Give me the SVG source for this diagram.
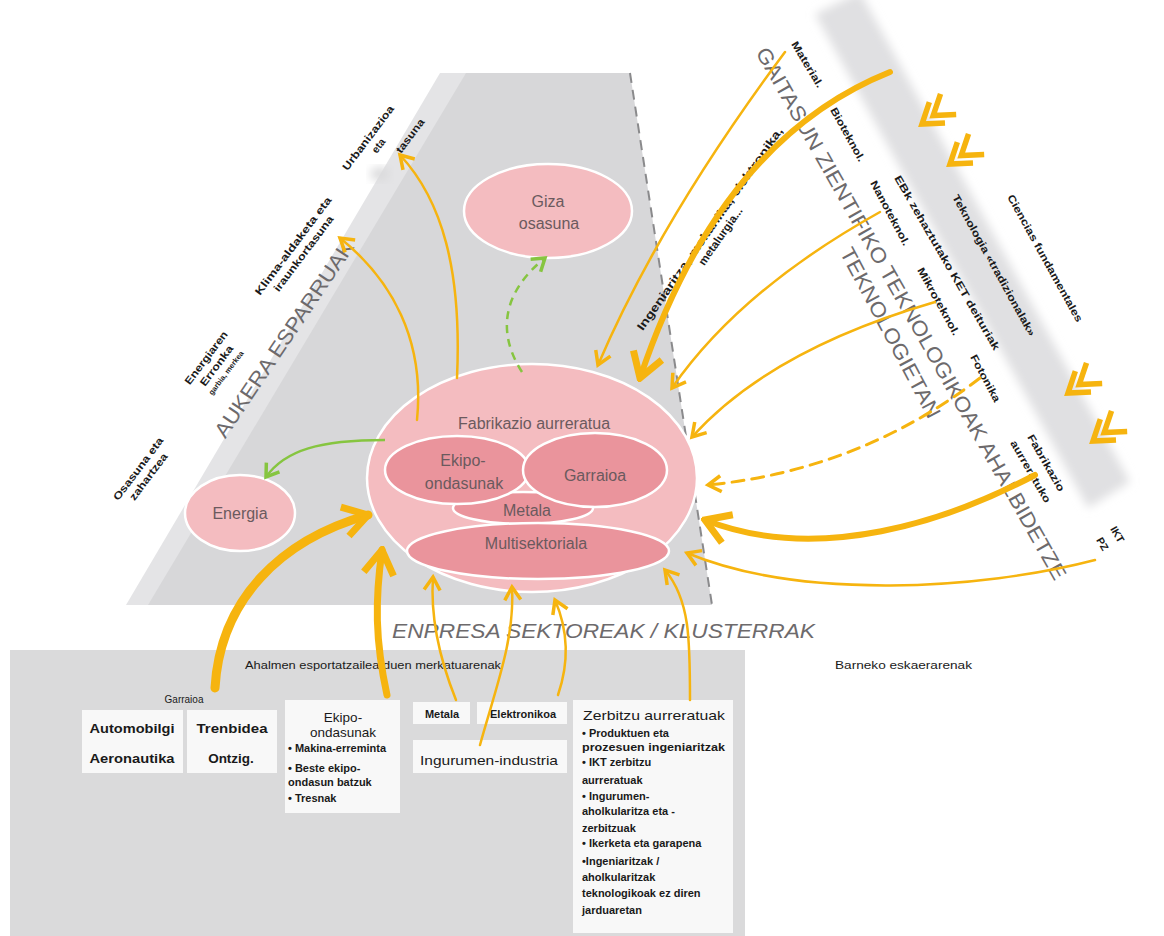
<svg xmlns="http://www.w3.org/2000/svg" width="1164" height="936" viewBox="0 0 1164 936">
<defs>
<style>
text{font-family:"Liberation Sans",Arial,sans-serif;}
.lbl{font-size:10.5px;font-weight:bold;fill:#1a1a1a;}
.big{font-size:21px;fill:#6d6a6c;}
.ell{font-size:16px;fill:#6b5a5e;}
.box{fill:#f8f8f8;}
.sm{font-size:11px;font-weight:bold;fill:#1a1a1a;}
.md{font-size:13.5px;fill:#1a1a1a;}
.y{fill:none;stroke:#f6b40f;stroke-linecap:round;}
.g{fill:none;stroke:#86c540;stroke-width:2.5;}
.outer{fill:#f4bcc0;stroke:#fff;stroke-width:2.5;}
.inner{fill:#ea949c;stroke:#fff;stroke-width:2.5;}
.chev{fill:none;stroke:#f6b40f;stroke-width:5.5;}
</style>
<marker id="ah" viewBox="-18 -12 22 24" refX="0" refY="0" markerWidth="22" markerHeight="24" orient="auto" markerUnits="userSpaceOnUse"><path d="M-13,-8 L0,0 L-13,8" fill="none" stroke="#f6b40f" stroke-width="3.5"/></marker>
<marker id="ahB" viewBox="-30 -20 34 40" refX="0" refY="0" markerWidth="34" markerHeight="40" orient="auto" markerUnits="userSpaceOnUse"><path d="M-24,-15 L0,0 L-24,15" fill="none" stroke="#f6b40f" stroke-width="7"/></marker>
<marker id="ag" viewBox="-18 -12 22 24" refX="0" refY="0" markerWidth="22" markerHeight="24" orient="auto" markerUnits="userSpaceOnUse"><path d="M-12,-8 L0,0 L-12,8" fill="none" stroke="#86c540" stroke-width="3.5"/></marker>
<filter id="blur" x="-20%" y="-20%" width="140%" height="140%"><feGaussianBlur stdDeviation="5"/></filter>
<g id="chevron"><path class="chev" d="M-19,-13 L0,0 L-19,13"/><path class="chev" d="M-33,-13 L-14,0 L-33,13"/></g>
</defs>
<rect width="1164" height="936" fill="#fff"/>

<g id="background">
  <polygon points="440,73 468,73 150,605 126,605" fill="#e4e4e6"/>
  <polygon points="466,73 630,73 712,605 148,605" fill="#d7d7d9"/>
  <polygon points="815,14 860,-8 1130,482 1088,508" fill="#e0e0e2" filter="url(#blur)"/>
  <line x1="630" y1="73" x2="712" y2="605" stroke="#8a8a8c" stroke-width="2" stroke-dasharray="10 7"/>
  <rect x="10" y="650" width="735" height="286" fill="#dadadb"/>
  <ellipse cx="380" cy="174" rx="10" ry="7" fill="#dadadc" filter="url(#blur)"/>
</g>

<g id="section-labels">
  <text class="big" transform="translate(290,343) rotate(-56)" text-anchor="middle" textLength="232" lengthAdjust="spacingAndGlyphs">AUKERA ESPARRUAK</text>
  <text class="big" transform="translate(905,317) rotate(60.5)" text-anchor="middle" textLength="608" lengthAdjust="spacingAndGlyphs">GAITASUN ZIENTIFIKO TEKNOLOGIKOAK AHALBIDETZE</text>
  <text class="big" transform="translate(884,336) rotate(62)" text-anchor="middle" textLength="190" lengthAdjust="spacingAndGlyphs">TEKNOLOGIETAN</text>
  <text class="big" x="392" y="638" font-style="italic" textLength="423" lengthAdjust="spacingAndGlyphs">ENPRESA SEKTOREAK / KLUSTERRAK</text>
</g>

<g id="aukera-labels">
  <text class="lbl" transform="translate(141,471) rotate(-53)" text-anchor="middle"><tspan x="0" y="0" textLength="76" lengthAdjust="spacingAndGlyphs">Osasuna eta</tspan><tspan x="0" y="13" textLength="56" lengthAdjust="spacingAndGlyphs">zahartzea</tspan></text>
  <text class="lbl" transform="translate(209,360) rotate(-53)" text-anchor="middle"><tspan x="0" y="0" textLength="64" lengthAdjust="spacingAndGlyphs">Energiaren</tspan><tspan x="0" y="13" textLength="48" lengthAdjust="spacingAndGlyphs">Erronka</tspan><tspan x="0" y="24" font-size="7.5">garbia, merkea</tspan></text>
  <text class="lbl" transform="translate(296,248) rotate(-53)" text-anchor="middle"><tspan x="0" y="0" textLength="120" lengthAdjust="spacingAndGlyphs">Klima-aldaketa eta</tspan><tspan x="0" y="13" textLength="92" lengthAdjust="spacingAndGlyphs">iraunkortasuna</tspan></text>
  <text class="lbl" transform="translate(371,140) rotate(-53)" text-anchor="middle"><tspan x="0" y="0" textLength="78" lengthAdjust="spacingAndGlyphs">Urbanizazioa</tspan><tspan x="0" y="13">eta</tspan></text>
  <text class="lbl" transform="translate(413,138) rotate(-53)" text-anchor="middle" textLength="40" lengthAdjust="spacingAndGlyphs">tasuna</text>
</g>

<g id="tech-labels">
  <text class="lbl" transform="translate(791,44) rotate(59)" textLength="52" lengthAdjust="spacingAndGlyphs">Material.</text>
  <text class="lbl" transform="translate(830,110) rotate(61)" textLength="60" lengthAdjust="spacingAndGlyphs">Bioteknol.</text>
  <text class="lbl" transform="translate(894,178) rotate(60)" textLength="200" lengthAdjust="spacingAndGlyphs">EBk zehaztutako KET deituriak</text>
  <text class="lbl" transform="translate(870,183) rotate(62)" textLength="72" lengthAdjust="spacingAndGlyphs">Nanoteknol.</text>
  <text class="lbl" transform="translate(917,270) rotate(61)" textLength="76" lengthAdjust="spacingAndGlyphs">Mikroteknol.</text>
  <text class="lbl" transform="translate(970,357) rotate(62)" textLength="52" lengthAdjust="spacingAndGlyphs">Fotonika</text>
  <text class="lbl" transform="translate(952,197) rotate(61)" textLength="160" lengthAdjust="spacingAndGlyphs">Teknologia «tradizionalak»</text>
  <text class="lbl" transform="translate(1007,197) rotate(61)" textLength="144" lengthAdjust="spacingAndGlyphs">Ciencias fundamentales</text>
  <text class="lbl" transform="translate(1027,437) rotate(60)" textLength="64" lengthAdjust="spacingAndGlyphs">Fabrikazio</text>
  <text class="lbl" transform="translate(1010,443) rotate(60)" textLength="70" lengthAdjust="spacingAndGlyphs">aurreratuko</text>
  <text class="lbl" transform="translate(1110,529) rotate(60)">IKT</text>
  <text class="lbl" transform="translate(1096,540) rotate(60)">PZ</text>
  <text transform="translate(713,231) rotate(-55)" text-anchor="middle" font-size="11.5" font-weight="bold" fill="#1a1a1a"><tspan x="0" y="0" textLength="245" lengthAdjust="spacingAndGlyphs">Ingeniaritza, mekanika, elektronika,</tspan><tspan x="0" y="13">metalurgia...</tspan></text>
</g>

<g id="chevrons">
  <use href="#chevron" transform="translate(922,124) rotate(143)"/>
  <use href="#chevron" transform="translate(950,164) rotate(143)"/>
  <use href="#chevron" transform="translate(1068,393) rotate(143)"/>
  <use href="#chevron" transform="translate(1093,441) rotate(143)"/>
</g>

<g id="node-giza">
  <ellipse class="outer" cx="548" cy="211" rx="84" ry="47" fill="#f2b8bc"/>
  <text class="ell" x="548" y="207" text-anchor="middle" fill="#666">Giza</text>
  <text class="ell" x="549" y="229" text-anchor="middle" fill="#666">osasuna</text>
</g>

<g id="node-energia">
  <ellipse class="outer" cx="240" cy="513" rx="55" ry="38"/>
  <text class="ell" x="240" y="519" text-anchor="middle">Energia</text>
</g>

<g id="node-fabrikazio">
  <ellipse class="outer" cx="532" cy="478" rx="165" ry="114"/>
  <text class="ell" x="534" y="429" text-anchor="middle">Fabrikazio aurreratua</text>
</g>
<g id="node-metala">
  <ellipse class="inner" cx="523" cy="508" rx="70" ry="16"/>
  <text class="ell" x="527" y="516" text-anchor="middle" font-size="15">Metala</text>
</g>
<g id="node-ekipo">
  <ellipse class="inner" cx="457" cy="470" rx="72" ry="34"/>
  <text class="ell" x="463" y="466" text-anchor="middle">Ekipo-</text>
  <text class="ell" x="464" y="489" text-anchor="middle">ondasunak</text>
</g>
<g id="node-garraioa">
  <ellipse class="inner" cx="595" cy="470" rx="72" ry="37"/>
  <text class="ell" x="595" y="481" text-anchor="middle" font-size="17">Garraioa</text>
</g>
<g id="node-multisektoriala">
  <ellipse class="inner" cx="538" cy="551" rx="131" ry="28"/>
  <text class="ell" x="536" y="549" text-anchor="middle" font-size="15">Multisektoriala</text>
</g>

<g id="sectors">
  <text x="245" y="669" font-size="11" fill="#1a1a1a" textLength="256" lengthAdjust="spacingAndGlyphs">Ahalmen esportatzailea duen merkatuarenak</text>
  <text x="835" y="669" font-size="11.5" fill="#1a1a1a" textLength="137" lengthAdjust="spacingAndGlyphs">Barneko eskaerarenak</text>
  <text x="184" y="703" font-size="10" fill="#1a1a1a" text-anchor="middle">Garraioa</text>
  <g id="box-garraio1"><rect class="box" x="82" y="710" width="101" height="63"/>
    <text class="md" x="132" y="733" text-anchor="middle" font-weight="bold" textLength="85" lengthAdjust="spacingAndGlyphs">Automobilgi</text>
    <text class="md" x="132" y="763" text-anchor="middle" font-weight="bold" textLength="85" lengthAdjust="spacingAndGlyphs">Aeronautika</text></g>
  <g id="box-garraio2"><rect class="box" x="187" y="710" width="90" height="63"/>
    <text class="md" x="232" y="733" text-anchor="middle" font-weight="bold" textLength="71" lengthAdjust="spacingAndGlyphs">Trenbidea</text>
    <text class="md" x="231" y="763" text-anchor="middle" font-weight="bold">Ontzig.</text></g>
  <g id="box-ekipo"><rect class="box" x="285" y="700" width="115" height="113"/>
    <text class="md" x="343" y="722" text-anchor="middle">Ekipo-</text>
    <text class="md" x="343" y="737" text-anchor="middle">ondasunak</text>
    <text class="sm" x="288" y="752" font-size="10.5">• Makina-erreminta</text>
    <text class="sm" x="288" y="772" font-size="10.5">• Beste ekipo-</text>
    <text class="sm" x="288" y="786" font-size="10.5">ondasun batzuk</text>
    <text class="sm" x="288" y="802" font-size="10.5">• Tresnak</text></g>
  <g id="box-metala"><rect class="box" x="413" y="702" width="57" height="22"/>
    <text class="sm" x="442" y="718" text-anchor="middle" font-size="10.5">Metala</text></g>
  <g id="box-elektronikoa"><rect class="box" x="477" y="702" width="90" height="22"/>
    <text class="sm" x="523" y="718" text-anchor="middle" font-size="10.5">Elektronikoa</text></g>
  <g id="box-ingurumen"><rect class="box" x="413" y="740" width="154" height="33"/>
    <text class="md" x="489" y="765" text-anchor="middle" textLength="138" lengthAdjust="spacingAndGlyphs">Ingurumen-industria</text></g>
  <g id="box-zerbitzu"><rect class="box" x="573" y="700" width="160" height="233"/>
    <text class="md" x="583" y="720" textLength="142" lengthAdjust="spacingAndGlyphs">Zerbitzu aurreratuak</text>
    <text class="sm" x="582" y="737">• Produktuen eta</text>
    <text class="sm" x="582" y="751" textLength="143" lengthAdjust="spacingAndGlyphs">prozesuen ingeniaritzak</text>
    <text class="sm" x="582" y="766">• IKT zerbitzu</text>
    <text class="sm" x="582" y="784">aurreratuak</text>
    <text class="sm" x="582" y="800">• Ingurumen-</text>
    <text class="sm" x="582" y="815">aholkularitza eta -</text>
    <text class="sm" x="582" y="832">zerbitzuak</text>
    <text class="sm" x="582" y="847">• Ikerketa eta garapena</text>
    <text class="sm" x="582" y="865">•Ingeniaritzak /</text>
    <text class="sm" x="582" y="881">aholkularitzak</text>
    <text class="sm" x="582" y="897">teknologikoak ez diren</text>
    <text class="sm" x="582" y="914">jarduaretan</text></g>
</g>

<g id="connectors">
  <path class="y" stroke-width="2.5" d="M785,52 Q660,220 598,365" marker-end="url(#ah)"/>
  <path class="y" stroke-width="6" d="M890,72 Q720,140 640,378" marker-end="url(#ahB)"/>
  <path class="y" stroke-width="2.5" d="M880,212 Q740,290 672,388" marker-end="url(#ah)"/>
  <path class="y" stroke-width="2.5" d="M935,302 Q770,350 692,437" marker-end="url(#ah)"/>
  <path class="y" stroke-width="3" stroke-dasharray="12 8" stroke-linecap="butt" d="M980,378 Q860,470 708,485" marker-end="url(#ah)"/>
  <path class="y" stroke-width="6" d="M1035,475 C950,520 820,565 705,520" marker-end="url(#ahB)"/>
  <path class="y" stroke-width="2.5" d="M1095,560 C980,590 800,600 687,553" marker-end="url(#ah)"/>
  <path class="y" stroke-width="2.5" d="M417,420 C425,340 392,280 340,238" marker-end="url(#ah)"/>
  <path class="y" stroke-width="2.5" d="M457,378 C462,270 442,200 400,155" marker-end="url(#ah)"/>
  <path class="g" stroke-dasharray="8 6" d="M522,372 C495,330 505,290 545,258" marker-end="url(#ag)"/>
  <path class="g" d="M385,440 C320,440 285,450 266,477" marker-end="url(#ag)"/>
  <path class="y" stroke-width="9" d="M215,688 C220,600 280,540 368,515" marker-end="url(#ahB)"/>
  <path class="y" stroke-width="7" d="M387,695 C375,640 375,600 382,550" marker-end="url(#ahB)"/>
  <path class="y" stroke-width="2.5" d="M456,700 C440,660 430,620 433,577" marker-end="url(#ah)"/>
  <path class="y" stroke-width="2.5" d="M480,745 C495,690 515,640 512,587" marker-end="url(#ah)"/>
  <path class="y" stroke-width="2.5" d="M558,695 C570,660 568,630 555,600" marker-end="url(#ah)"/>
  <path class="y" stroke-width="2.5" d="M690,700 C690,640 690,600 665,570" marker-end="url(#ah)"/>
</g>
</svg>
